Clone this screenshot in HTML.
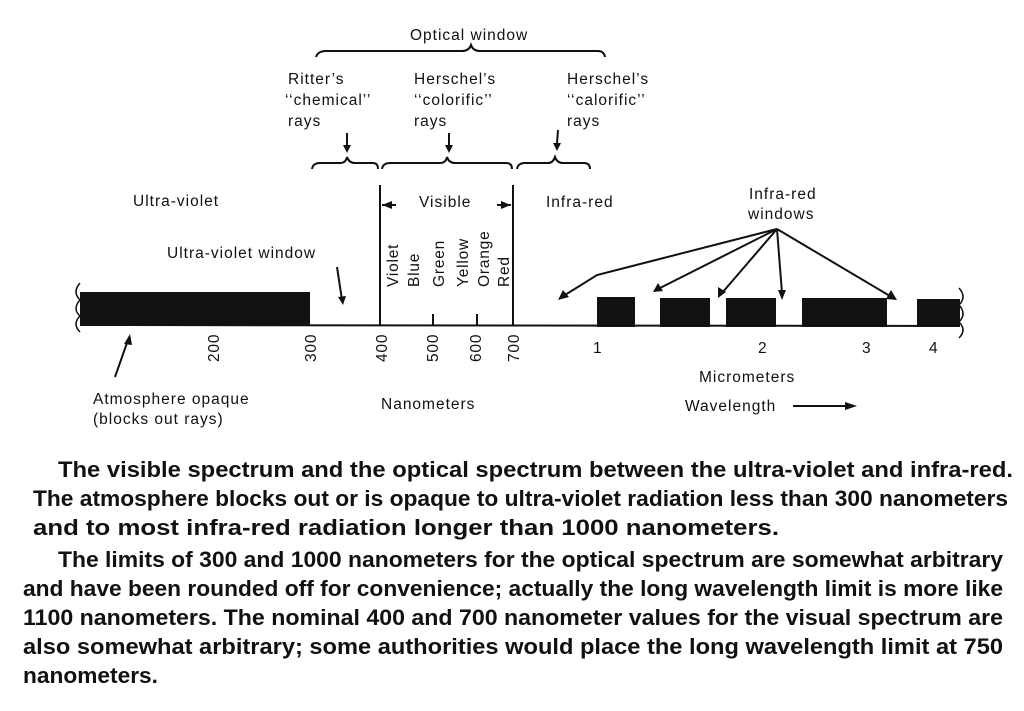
<!DOCTYPE html>
<html><head><meta charset="utf-8"><style>
html,body{margin:0;padding:0;background:#fff;}
svg{display:block;}
text{font-family:"Liberation Sans",sans-serif;fill:#111;}
</style></head><body>
<svg width="1024" height="711" viewBox="0 0 1024 711" xmlns="http://www.w3.org/2000/svg">
<g stroke="#111" fill="none" stroke-width="2">
<path d="M316 57 Q318 51 326 51 L462 51 Q469 51 471 45 Q473 51 480 51 L598 51 Q604 51 605 57"/>
<path d="M312 169 Q313 163 320 163 L340 163 Q346 163 347 157 Q349 163 355 163 L373 163 Q378 163 378 169"/>
<path d="M382 169 Q383 163 390 163 L440 163 Q446 163 447 157 Q449 163 455 163 L506 163 Q512 163 512 169"/>
<path d="M517 169 Q518 163 525 163 L548 163 Q553 163 555 157 Q557 163 563 163 L584 163 Q590 163 590 169"/>
<line x1="347" y1="133" x2="347" y2="145"/>
<line x1="449" y1="133" x2="449" y2="145"/>
<line x1="558" y1="130" x2="557" y2="143"/>
<line x1="380" y1="185" x2="380" y2="326"/>
<line x1="513" y1="185" x2="513" y2="326"/>
<line x1="80" y1="325" x2="960" y2="326"/>
<line x1="433" y1="314" x2="433" y2="325"/>
<line x1="477" y1="314" x2="477" y2="325"/>
<line x1="382" y1="205" x2="396" y2="205"/>
<line x1="497" y1="205" x2="511" y2="205"/>
<line x1="337" y1="267" x2="342" y2="300"/>
<line x1="115" y1="377" x2="128" y2="340"/>
<path d="M777 229 L597 275 L565 295"/>
<line x1="777" y1="229" x2="660" y2="288"/>
<line x1="777" y1="229" x2="722" y2="293"/>
<line x1="777" y1="229" x2="782" y2="293"/>
<line x1="777" y1="229" x2="890" y2="296"/>
<line x1="793" y1="406" x2="845" y2="406"/>
<path d="M80 283 Q72 292 80 300 Q72 309 80 316 Q72 324 80 332" stroke-width="1.5"/>
<path d="M959 288 Q967 297 959 305 Q967 314 959 322 Q967 330 959 338" stroke-width="1.5"/>
</g>
<g fill="#111">
<polygon points="343,145 351,145 347,153"/>
<polygon points="445,145 453,145 449,153"/>
<polygon points="553,143 561,143 557,151"/>
<polygon points="382,205 392,201 392,209"/>
<polygon points="511,205 501,201 501,209"/>
<polygon points="338,297 346,296 343,305"/>
<polygon points="130,334 124,344 132,345"/>
<polygon points="558,300 563,290 569,297"/>
<polygon points="653,292 658,283 663,291"/>
<polygon points="718,298 718,287 726,292"/>
<polygon points="778,290 786,290 782,300"/>
<polygon points="897,300 886,299 891,290"/>
<polygon points="845,402 857,406 845,410"/>
<rect x="80" y="292" width="230" height="34"/>
<rect x="597" y="297" width="38" height="30"/>
<rect x="660" y="298" width="50" height="29"/>
<rect x="726" y="298" width="50" height="29"/>
<rect x="802" y="298" width="85" height="29"/>
<rect x="917" y="299" width="43" height="28"/>
</g>
<g font-size="15.5" letter-spacing="1">
<text x="410" y="40">Optical window</text>
<text x="288" y="84">Ritter’s</text>
<text x="285" y="105">‘‘chemical’’</text>
<text x="288" y="126">rays</text>
<text x="414" y="84">Herschel’s</text>
<text x="414" y="105">‘‘colorific’’</text>
<text x="414" y="126">rays</text>
<text x="567" y="84">Herschel’s</text>
<text x="567" y="105">‘‘calorific’’</text>
<text x="567" y="126">rays</text>
<text x="133" y="206">Ultra-violet</text>
<text x="419" y="207">Visible</text>
<text x="546" y="207">Infra-red</text>
<text x="749" y="199">Infra-red</text>
<text x="748" y="219">windows</text>
<text x="167" y="258">Ultra-violet window</text>
<text x="93" y="404">Atmosphere opaque</text>
<text x="93" y="424">(blocks out rays)</text>
<text x="381" y="409">Nanometers</text>
<text x="699" y="382">Micrometers</text>
<text x="685" y="411">Wavelength</text>
<text x="593" y="353">1</text>
<text x="758" y="353">2</text>
<text x="862" y="353">3</text>
<text x="929" y="353">4</text>
</g>
<g font-size="15.5" letter-spacing="0.8">
<text transform="translate(398,287) rotate(-90)">Violet</text>
<text transform="translate(419,287) rotate(-90)">Blue</text>
<text transform="translate(444,287) rotate(-90)">Green</text>
<text transform="translate(468,287) rotate(-90)">Yellow</text>
<text transform="translate(489,287) rotate(-90)">Orange</text>
<text transform="translate(509,287) rotate(-90)">Red</text>
<text transform="translate(219,362) rotate(-90)">200</text>
<text transform="translate(316,362) rotate(-90)">300</text>
<text transform="translate(387,362) rotate(-90)">400</text>
<text transform="translate(438,362) rotate(-90)">500</text>
<text transform="translate(481,362) rotate(-90)">600</text>
<text transform="translate(519,362) rotate(-90)">700</text>
</g>
<g font-size="22" font-weight="bold">
<text x="58" y="477" textLength="955" lengthAdjust="spacingAndGlyphs">The visible spectrum and the optical spectrum between the ultra-violet and infra-red.</text>
<text x="33" y="506" textLength="975" lengthAdjust="spacingAndGlyphs">The atmosphere blocks out or is opaque to ultra-violet radiation less than 300 nanometers</text>
<text x="33" y="535" textLength="746" lengthAdjust="spacingAndGlyphs">and  to  most  infra-red  radiation  longer  than  1000  nanometers.</text>
<text x="58" y="567" textLength="945" lengthAdjust="spacingAndGlyphs">The limits of 300 and 1000 nanometers for the optical spectrum are somewhat arbitrary</text>
<text x="23" y="596" textLength="980" lengthAdjust="spacingAndGlyphs">and have been rounded off for convenience; actually the long wavelength limit is more like</text>
<text x="23" y="625" textLength="980" lengthAdjust="spacingAndGlyphs">1100 nanometers. The nominal 400 and 700 nanometer values for the visual spectrum are</text>
<text x="23" y="654" textLength="980" lengthAdjust="spacingAndGlyphs">also somewhat arbitrary; some authorities would place the long wavelength limit at 750</text>
<text x="23" y="683" textLength="135" lengthAdjust="spacingAndGlyphs">nanometers.</text>
</g>
</svg>
</body></html>
